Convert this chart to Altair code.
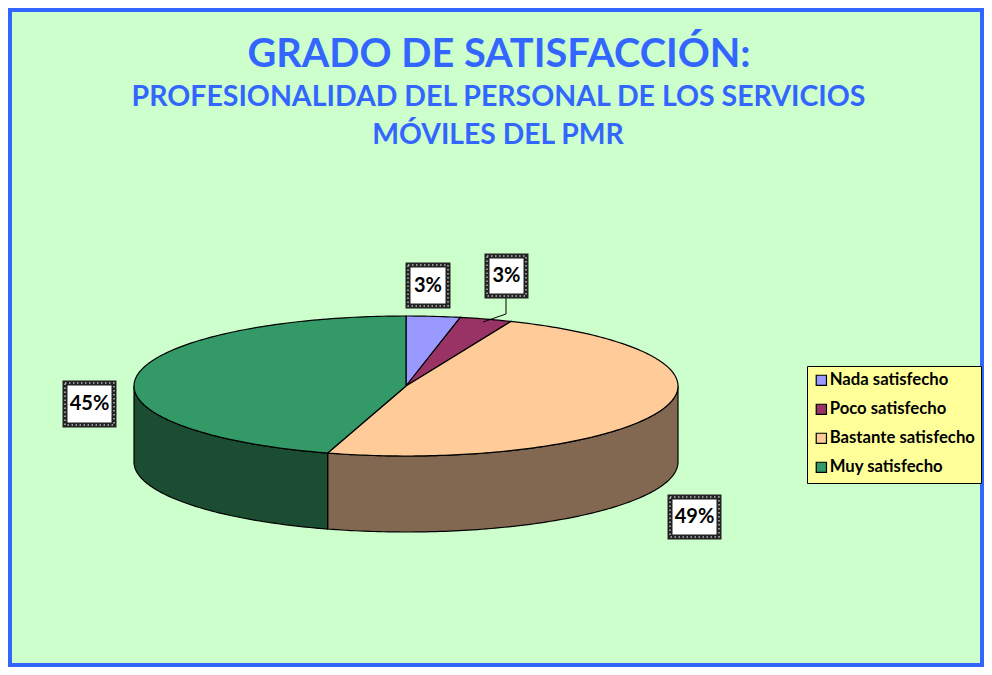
import math
import altair as alt
import pandas as pd

names = ["Nada satisfecho", "Poco satisfecho", "Bastante satisfecho", "Muy satisfecho"]
values = [3.2, 3.1, 48.35, 45.35]
labels = ["3%", "3%", "49%", "45%"]
top_colors = ["#9999FF", "#993366", "#FFCC99", "#339966"]
wall_colors = ["#4D4D80", "#4D1A33", "#826850", "#1B4D33"]
title_lines = ["GRADO DE SATISFACCIÓN:", "PROFESIONALIDAD DEL PERSONAL DE LOS SERVICIOS", "MÓVILES DEL PMR"]

W, H = 976, 659
CX, CY, RX, RY, DEPTH = 398, 378, 272, 70, 76
FONT = "Lato"

x_scale = alt.Scale(domain=[-CX / RX, (W - CX) / RX], nice=False, zero=False)
y_scale = alt.Scale(domain=[-(H - CY) / RY, CY / RY], nice=False, zero=False)

def pt(deg, drop=0.0):
    r = math.radians(deg)
    return math.sin(r), math.cos(r) - drop

top_rows, wall_rows = [], []
start = 0.0
total = sum(values)
for k, v in enumerate(values):
    end = start + 360 * v / total
    steps = max(2, int(end - start) + 1)
    arc = [start + (end - start) * j / steps for j in range(steps + 1)]
    path = [(0, 0)] + [pt(a) for a in arc] + [(0, 0)]
    for i, (x, y) in enumerate(path):
        top_rows.append({"name": names[k], "x": x, "y": y, "i": i})
    a, b = max(start, 90), min(end, 270)
    if b > a:
        n = int(b - a) + 1
        seq = [a + (b - a) * j / n for j in range(n + 1)]
        d = DEPTH / RY
        path = [pt(t) for t in seq] + [pt(t, d) for t in reversed(seq)]
        path.append(path[0])
        for i, (x, y) in enumerate(path):
            wall_rows.append({"c": wall_colors[k], "x": x, "y": y, "i": i})
    start = end

X = alt.X("x:Q", scale=x_scale, axis=None)
Y = alt.Y("y:Q", scale=y_scale, axis=None)

walls = alt.Chart(pd.DataFrame(wall_rows)).mark_line(stroke="black", strokeWidth=1.2).encode(
    x=X, y=Y, order=alt.Order("i:Q"),
    fill=alt.Fill("c:N", scale=None, legend=None),
)
tops = alt.Chart(pd.DataFrame(top_rows)).mark_line(stroke="black", strokeWidth=1.2).encode(
    x=X, y=Y, order=alt.Order("i:Q"),
    fill=alt.Fill("name:N", scale=alt.Scale(domain=names, range=top_colors),
                  legend=alt.Legend(title=None, orient="none", legendX=799, legendY=358,
                                    fillColor="#FFFF99", strokeColor="black", padding=6,
                                    symbolType="square", symbolSize=105, symbolStrokeColor="black",
                                    symbolStrokeWidth=1.2, rowPadding=11, labelFont=FONT,
                                    labelFontWeight="bold", labelFontSize=16.7, labelColor="black",
                                    labelLimit=200, labelOffset=0, symbolOffset=0)),
)

# leader line of the second label
leader = alt.Chart(pd.DataFrame({"px": [498, 498, 475], "py": [290, 306, 314], "i": [0, 1, 2]})).mark_line(
    color="black", strokeWidth=1
).encode(x=alt.X("px:Q", scale=alt.Scale(domain=[0, W], nice=False), axis=None),
         y=alt.Y("py:Q", scale=alt.Scale(domain=[H, 0], nice=False), axis=None),
         order=alt.Order("i:Q"))

box_df = pd.DataFrame({
    "label": labels,
    "x0": [479, 400, 662, 57], "x1": [518, 440, 711, 106],
    "y0": [248, 257, 489, 375], "y1": [288, 298, 529, 417],
})
px = alt.X("x0:Q", scale=alt.Scale(domain=[0, W], nice=False), axis=None)
py = alt.Y("y0:Q", scale=alt.Scale(domain=[H, 0], nice=False), axis=None)
boxes = alt.Chart(box_df).mark_rect(fill="white", stroke="#222222", strokeWidth=5).encode(
    x=px, x2="x1:Q", y=py, y2="y1:Q")
boxes_dots = alt.Chart(box_df).mark_rect(fill="transparent", stroke="#BBBBBB", strokeWidth=1.5,
                                         strokeDash=[1.5, 2.5]).encode(
    x=px, x2="x1:Q", y=py, y2="y1:Q")
box_text = alt.Chart(box_df.assign(xm=(box_df.x0 + box_df.x1) / 2, ym=(box_df.y0 + box_df.y1) / 2)).mark_text(
    font=FONT, fontWeight="bold", fontSize=20, color="black", align="center", baseline="middle"
).encode(x=alt.X("xm:Q", scale=alt.Scale(domain=[0, W], nice=False), axis=None),
         y=alt.Y("ym:Q", scale=alt.Scale(domain=[H, 0], nice=False), axis=None),
         text="label:N")

frame = alt.Chart(pd.DataFrame({"a": [0]})).mark_rect(fill="transparent", stroke="#3366FF", strokeWidth=8).encode(
    x=alt.value(0), x2=alt.value(W), y=alt.value(0), y2=alt.value(H))

def title(line, cx, cy, size):
    return alt.Chart(pd.DataFrame({"t": [line]})).mark_text(
        font=FONT, fontWeight="bold", fontSize=size, color="#3366FF", align="center", baseline="middle"
    ).encode(x=alt.value(cx), y=alt.value(cy), text="t:N")

chart = alt.layer(
    walls, tops, leader, boxes, boxes_dots, box_text, frame,
    title(title_lines[0], 491, 47, 39.7),
    title(title_lines[1], 490.5, 89, 28.5),
    title(title_lines[2], 490, 127.5, 28.3),
).resolve_scale(fill="independent", x="independent", y="independent").properties(
    width=W, height=H, background="#CCFFCC", padding=0, autosize=alt.AutoSizeParams(type="none")
).configure_view(stroke=None)

chart.save("out.html", embed_options={"renderer": "svg", "actions": False})
